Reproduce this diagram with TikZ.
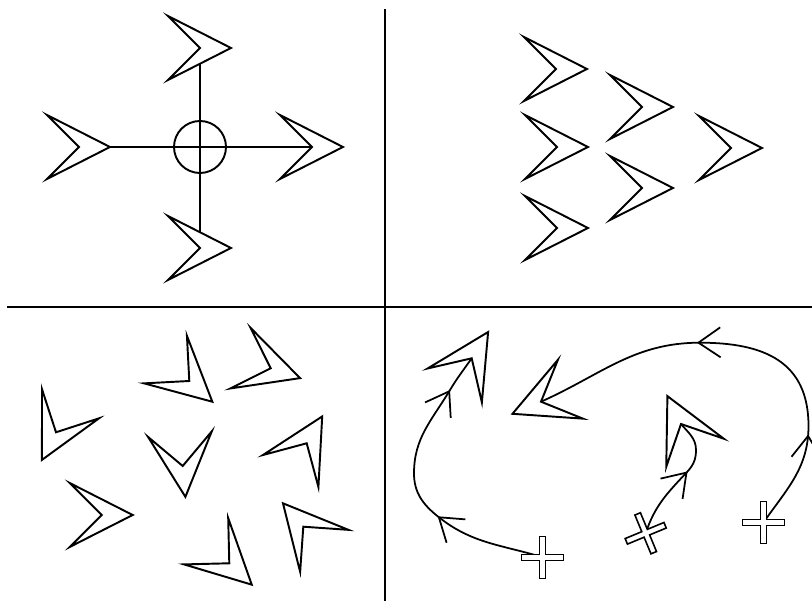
\documentclass[tikz,border=0pt]{standalone}
\usetikzlibrary{arrows.meta,decorations.markings}
\tikzset{
  divline/.style={line width=1.2pt},
  linkline/.style={line width=1.1pt},
  boidline/.style={line width=1.1pt, fill=white, line join=miter},
  trail/.style={line width=1pt, postaction={decorate}},
  midtip/.tip={Straight Barb[length=4.4mm, width=6mm]},
  boid/.pic={\draw[boidline] (31,0) -- (-32,32) -- (0,0) -- (-32,-32) -- cycle;},
  plusmark/.pic={\draw[boidline, line width=0.9pt] (-21,-3) -- (-3,-3) -- (-3,-21) -- (3,-21) -- (3,-3) -- (21,-3)
    -- (21,3) -- (3,3) -- (3,21) -- (-3,21) -- (-3,3) -- (-21,3) -- cycle;},
}
\begin{document}
\begin{tikzpicture}[x=0.02cm, y=0.02cm]
  \useasboundingbox (0,0) rectangle (812,601);
  \draw[divline] (385,592) -- (385,0);
  \draw[divline] (7,294) -- (812,294);

  % arriba izquierda
  \coordinate (hub) at (200,454);
  \coordinate (up) at (200,553);
  \coordinate (lf) at (79,454);
  \coordinate (rt) at (312,454);
  \coordinate (dn) at (200,353);
  \draw[linkline] (hub) circle[radius=26];
  \foreach \b in {up,lf,rt,dn} \draw[linkline] (hub) -- (\b);
  \foreach \b in {up,lf,rt,dn} \pic at (\b) {boid};

  % arriba derecha
  \foreach \x/\y in {556/532, 642/494, 557/454, 642/413, 557/373, 731/453}
    \pic at (\x,\y) {boid};

  % abajo izquierda
  \foreach \x/\y/\a in {56/168.7/243, 189.3/220/-42, 270.7/232.7/-18.5, 182.7/135/-85,
      306.7/157.7/60, 101.7/86/0, 229.3/37.7/-43.6, 303.3/74.3/131}
    \pic[rotate=\a] at (\x,\y) {boid};

  % abajo derecha
  \coordinate (bA) at (471.7,242.7);
  \coordinate (bB) at (541,199.3);
  \coordinate (bC) at (681,177);
  \coordinate (xA) at (542.7,43.7);
  \coordinate (xB) at (645.7,67.7);
  \coordinate (xC) at (763.3,78.3);

  \draw[trail, decoration={markings, mark=at position 0.385 with {\arrow{midtip}},
      mark=at position 0.87 with {\arrow{midtip}}}]
    (xA) to[out=163, in=-39] (437.3,85) to[out=141, in=270] (414,127.7)
    to[out=90, in=239] (450,211) to[out=59, in=235] (bA);
  \draw[trail, decoration={markings, mark=at position 0.23 with {\arrow{midtip}},
      mark=at position 0.615 with {\arrow{midtip}}}]
    (xC) to[out=55, in=270] (808.5,175) to[out=90, in=0, looseness=1.2] (700,258.3)
    to[out=180, in=24] (bB);
  \draw[trail, decoration={markings, mark=at position 0.58 with {\arrow{midtip}}}]
    (xB) to[out=72, in=227] (687.3,129.3) to[out=47, in=270] (696,151)
    to[out=90, in=310] (bC);

  \pic[rotate=58] at (bA) {boid};
  \pic[rotate=203] at (bB) {boid};
  \pic[rotate=116] at (bC) {boid};
  \pic at (xA) {plusmark};
  \pic[rotate=22.5] at (xB) {plusmark};
  \pic at (xC) {plusmark};
\end{tikzpicture}
\end{document}
